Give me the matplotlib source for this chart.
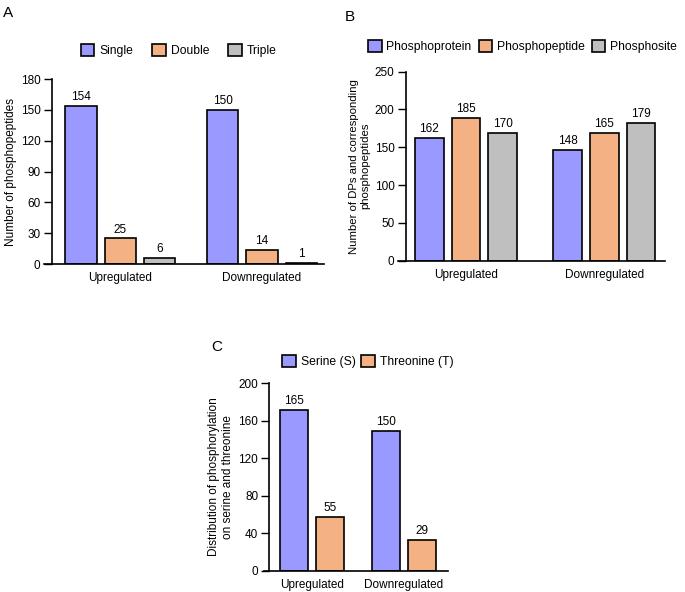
import matplotlib
matplotlib.use("Agg")
import matplotlib.pyplot as plt
import numpy as np

plt.rcParams['font.family'] = ['Liberation Sans', 'DejaVu Sans']

groups = ['Upregulated', 'Downregulated']

# panel A
a_series = ['Single', 'Double', 'Triple']
a_heights = [[154, 150], [25, 14], [6, 1]]
a_labels = [[154, 150], [25, 14], [6, 1]]

# panel B (bar heights as drawn, labels as printed)
b_series = ['Phosphoprotein', 'Phosphopeptide', 'Phosphosite']
b_heights = [[162, 146], [189, 169], [169, 182]]
b_labels = [[162, 148], [185, 165], [170, 179]]

# panel C
c_series = ['Serine (S)', 'Threonine (T)']
c_heights = [[172, 149], [57, 33]]
c_labels = [[165, 150], [55, 29]]

colors = ['#9999ff', '#f4b183', '#bfbfbf']

fig = plt.figure(figsize=(6.85, 5.92), dpi=100)


def draw_panel(rect, series, heights, labels, pitch, width, xlim, ylim, yticks,
               ylabel, letter, letter_pos, leg_anchor, leg_spacing, ylab_size=8.5):
    ax = fig.add_axes(rect)
    x = np.arange(len(groups))
    n = len(series)
    for i, name in enumerate(series):
        pos = x + (i - (n - 1) / 2) * pitch
        bars = ax.bar(pos, heights[i], width, color=colors[i], edgecolor='black',
                      linewidth=1.2, label=name, zorder=2)
        for b, lab in zip(bars, labels[i]):
            ax.text(b.get_x() + b.get_width() / 2, b.get_height() + ylim[1] * 0.015,
                    str(lab), ha='center', va='bottom', fontsize=8.5)
    ax.set_xlim(*xlim)
    ax.set_ylim(*ylim)
    ax.set_yticks(yticks)
    ax.set_xticks(x)
    ax.set_xticklabels(groups, fontsize=8.5)
    ax.tick_params(axis='x', length=0, pad=6)
    ax.tick_params(axis='y', length=6, width=1, labelsize=8.5, pad=2)
    for s in ['top', 'right']:
        ax.spines[s].set_visible(False)
    ax.spines['left'].set_linewidth(1.2)
    ax.spines['bottom'].set_linewidth(1.2)
    ax.spines['bottom'].set_bounds(xlim[0] - (xlim[1] - xlim[0]) * 0.028, xlim[1])
    ax.set_ylabel(ylabel, fontsize=ylab_size, labelpad=3)
    ax.legend(loc='center', bbox_to_anchor=leg_anchor, bbox_transform=fig.transFigure,
              ncol=n, frameon=False, fontsize=8.7, handlelength=1.1, handleheight=1.1,
              handletextpad=0.4, columnspacing=leg_spacing, borderaxespad=0)
    fig.text(letter_pos[0], letter_pos[1], letter, fontsize=11, ha='left', va='top')
    return ax


draw_panel([0.0755, 0.554, 0.3975, 0.3125], a_series, a_heights, a_labels,
           0.277, 0.222, (-0.484, 1.4375), (0, 180), range(0, 181, 30),
           'Number of phosphopeptides', 'A', (0.004, 0.99), (0.261, 0.914), 1.6)

draw_panel([0.5923, 0.5596, 0.3785, 0.3193], b_series, b_heights, b_labels,
           0.265, 0.206, (-0.436, 1.439), (0, 250), range(0, 251, 50),
           'Number of DPs and corresponding\nphosphopeptides', 'B', (0.503, 0.983),
           (0.763, 0.921), 0.6, ylab_size=8.2)

draw_panel([0.3931, 0.036, 0.2613, 0.3165], c_series, c_heights, c_labels,
           0.398, 0.305, (-0.468, 1.485), (0, 200), range(0, 201, 40),
           'Distribution of phosphorylation\non serine and threonine', 'C',
           (0.308, 0.426), (0.537, 0.389), 0.5)

fig.savefig('out.png', dpi=100)
